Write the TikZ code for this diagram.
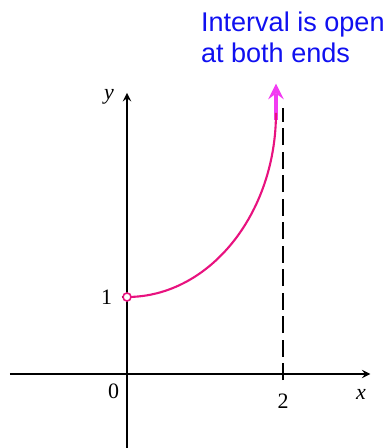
\documentclass[tikz,border=0pt]{standalone}
\usepackage{fontspec}
\setmainfont{Liberation Serif}
\newfontfamily\notefont{Liberation Sans}
\usepackage{tikz}
\usetikzlibrary{positioning, calc}
\definecolor{CurvePink}{HTML}{E8127F}
\definecolor{EndMagenta}{HTML}{F23CF2}
\definecolor{NoteBlue}{HTML}{1010F0}

\begin{document}
\begin{tikzpicture}[x=1.56cm, y=1.54cm,
    axis/.style={line width=1.1pt, -stealth},
    asym/.style={line width=1.3pt, dash pattern=on 0.34cm off 0.13cm},
    lbl/.style={font=\fontsize{12.5}{14}\selectfont}]
      \useasboundingbox (-1.628,-0.961) rectangle (3.372,4.857);
      %% Axes
      \coordinate (xmin) at (-1.5,0);
      \coordinate (xmax) at (3.12,0);
      \coordinate (ymin) at (0,-0.961);
      \coordinate (ymax) at (0,3.65);
      \draw[axis] (xmin) -- (xmax);
      \draw[axis] (ymin) -- (ymax);
      \node[lbl, font=\fontsize{12.5}{14}\selectfont\itshape] (xlab) at (3.0,-0.27) {x};
      \node[lbl, font=\fontsize{12.5}{14}\selectfont\itshape] (ylab) at (-0.23,3.6) {y};
      \node[lbl] (zero) at (-0.17,-0.23) {0};
      \node[lbl] (two) at (2,-0.35) {2};
      \node[lbl] (one) at (-0.26,1) {1};
      %% Tick at 1 and vertical asymptote x = 2
      \draw[line width=1.1pt] (-0.07,1) -- (0,1);
      \coordinate (asymlo) at (2,-0.08);
      \coordinate (asymhi) at (2,3.45);
      \draw[asym] (asymlo) -- (asymhi);
      %% Graph of the function on (0,2)
      \coordinate (start) at (0,1);
      \coordinate (top) at (1.91,3.39);
      \coordinate (tip) at (1.91,3.77);
      \draw[EndMagenta, line width=2.8pt, -stealth] (1.91,3.3) -- (tip);
      \draw[CurvePink, line width=1.2pt] (start) .. controls (1.055,1) and (1.91,2.08) .. (top);
      %% Open endpoint at x = 0
      \draw[CurvePink, fill=white, line width=0.9pt] (start) circle (0.08cm);
      %% Note
      \node[NoteBlue, anchor=base west, align=left, inner sep=0pt,
            font=\notefont\fontsize{15.4}{17.6}\selectfont] (note) at (0.945,4.04)
            {Interval is open\\at both ends};
    \end{tikzpicture}
\end{document}
